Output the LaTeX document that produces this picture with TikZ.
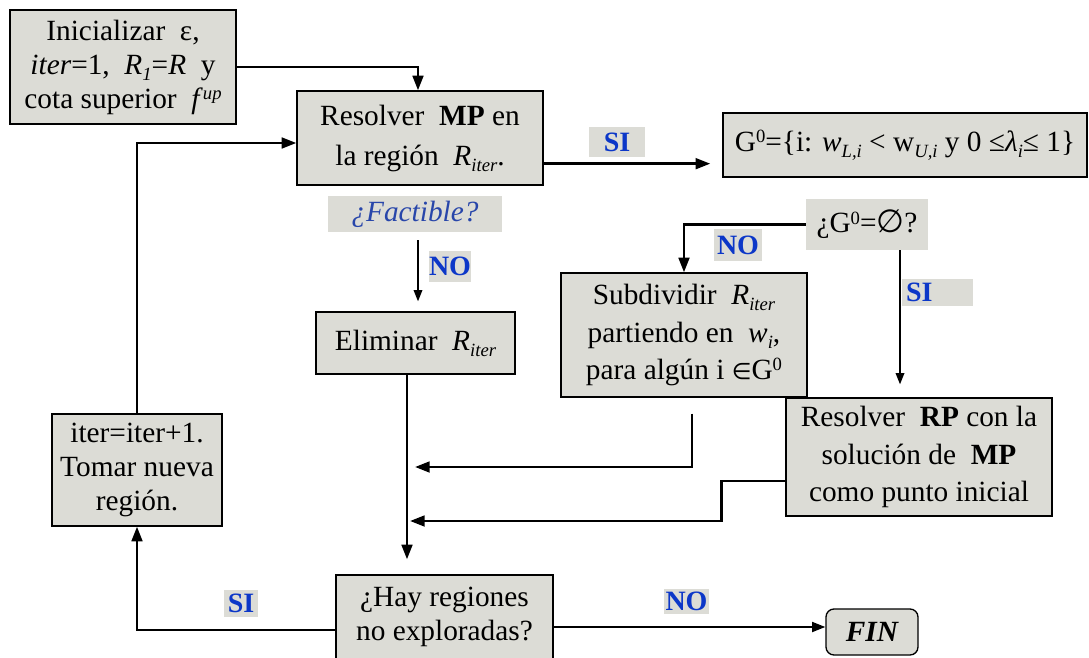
\documentclass[tikz,border=0pt]{standalone}
\usepackage{fontspec}
\setmainfont{Liberation Serif}
\newfontfamily\symf{DejaVu Sans}
\usetikzlibrary{arrows.meta,calc}
\definecolor{boxgray}{RGB}{220,220,214}
\definecolor{lblblue}{RGB}{12,55,200}
\definecolor{factblue}{RGB}{40,70,170}
\newcommand{\lsub}[1]{\raisebox{-0.45ex}{\fontsize{14}{14}\selectfont\itshape #1}}
\newcommand{\usup}[1]{\raisebox{0.65ex}{\fontsize{14}{14}\selectfont #1}}
\begin{document}
\begin{tikzpicture}[x=0.75pt,y=-0.75pt,
  font=\fontsize{22}{25.5}\selectfont,
  sz/.style 2 args={minimum width=#1*0.75pt, minimum height=#2*0.75pt},
  box/.style={draw=black, line width=1pt, fill=boxgray, inner sep=0pt, align=center},
  lbl/.style={fill=boxgray, inner sep=0pt, text=lblblue, font=\fontsize{21}{22}\selectfont\bfseries},
  conn/.style={line width=2pt, -{Triangle[length=11pt,width=8pt]}},
  medconn/.style={line width=1.5pt, -{Triangle[length=10pt,width=7.5pt]}},
  thinconn/.style={line width=1.1pt, -{Triangle[length=8.5pt,width=6.5pt]}},
]
\useasboundingbox (0,0) rectangle (1089,657);

% boxes
\node[box, sz={226}{114}] (init) at (123,67) {Inicializar\ \ ε,\\ \textit{iter}=1,\ \ \textit{R}\lsub{1}=\textit{R}\ \ y\\ cota superior\ \ \textit{f}\usup{\textit{up}}};
\node[box, sz={246}{94}, font=\fontsize{22}{30}\selectfont] (mp) at (420,138) {Resolver\ \ \textbf{MP} en\\ la región\ \ \textit{R}\lsub{iter}.};
\node[fill=boxgray, inner sep=0pt, sz={174}{36}, text=factblue, font=\fontsize{22}{24}\selectfont\itshape] (fact) at (415,214) {¿Factible?};
\node[box, sz={364}{64}] (g0) at (905,145) {G\usup{0}=\{i: \textit{w}\lsub{L,i} < w\lsub{U,i} y 0 ≤\textit{λ}\lsub{i}≤ 1\}};
\node[fill=boxgray, inner sep=0pt, sz={122}{51}] (g0q) at (867,224.5) {¿G\usup{0}={\symf\fontsize{24}{24}\selectfont ∅}?};
\node[box, sz={246}{124}, font=\fontsize{22}{28}\selectfont] (sub) at (684,335) {Subdividir\ \ \textit{R}\lsub{iter}\\ partiendo en\ \ \textit{w}\lsub{i},\\ para algún i {\symf\fontsize{17}{17}\selectfont ∈}G\usup{0}};
\node[box, sz={199}{62}] (elim) at (415.5,343) {Eliminar\ \ \textit{R}\lsub{iter}};
\node[box, sz={266}{118}, font=\fontsize{22}{28}\selectfont] (rp) at (919,457) {Resolver\ \ \textbf{RP} con la\\ solución de\ \ \textbf{MP}\\ como punto inicial};
\node[box, sz={170}{112}] (it) at (137,470) {iter=iter+1.\\ Tomar nueva\\ región.};
\node[box, sz={217}{84}] (hay) at (444.5,617) {¿Hay regiones\\ no exploradas?};
\node[box, rounded corners=6pt, sz={92}{46}, font=\fontsize{22}{24}\selectfont\bfseries\itshape] (fin) at (872,632) {FIN};

% labels
\node[lbl, sz={56}{30}] (si1) at (617,142) {SI};
\node[lbl, sz={42}{31}] (no1) at (450,266.5) {NO};
\node[lbl, sz={48}{32}] (no2) at (738,245) {NO};
\node[lbl, sz={71}{27}, text width=47pt, align=left] (si2) at (937.5,292.5) {SI};
\node[lbl, sz={34}{27}] (si3) at (241,603.5) {SI};
\node[lbl, sz={45}{25}] (no3) at (686.5,601.5) {NO};

% free ends
\coordinate (j1) at (415,467);
\coordinate (j2) at (410,521);

% connectors
\draw[conn] (init.east) -| ($(mp.north)+(-2,0)$);
\draw[conn] (it.north) |- ($(mp.west)+(0,5)$);
\draw[conn] ($(mp.south east)+(0,-22)$) -- ($(g0.south west)+(-12,-14)$);
\draw[thinconn] ($(fact.south)+(3,8)$) -- ($(elim.north)+(2.5,-10)$);
\draw[conn] (g0q.west) -| (sub.north);
\draw[thinconn] ($(g0q.south)+(33,0)$) -- ($(rp.north)+(-19,-13)$);
\draw[conn] ($(elim.south)+(-8.5,0)$) -- ($(hay.north)+(-37.5,-15)$);
\draw[conn] ($(sub.south)+(8,16)$) |- (j1);
\draw[conn] ($(rp.west)+(0,24)$) -- ++(-64,0) |- (j2);
\draw[conn] ($(hay.west)+(0,13)$) -| (it.south);
\draw[medconn] ($(hay.east |- fin.west)+(0,-5)$) -- ($(fin.west)+(0,-5)$);
\end{tikzpicture}
\end{document}
